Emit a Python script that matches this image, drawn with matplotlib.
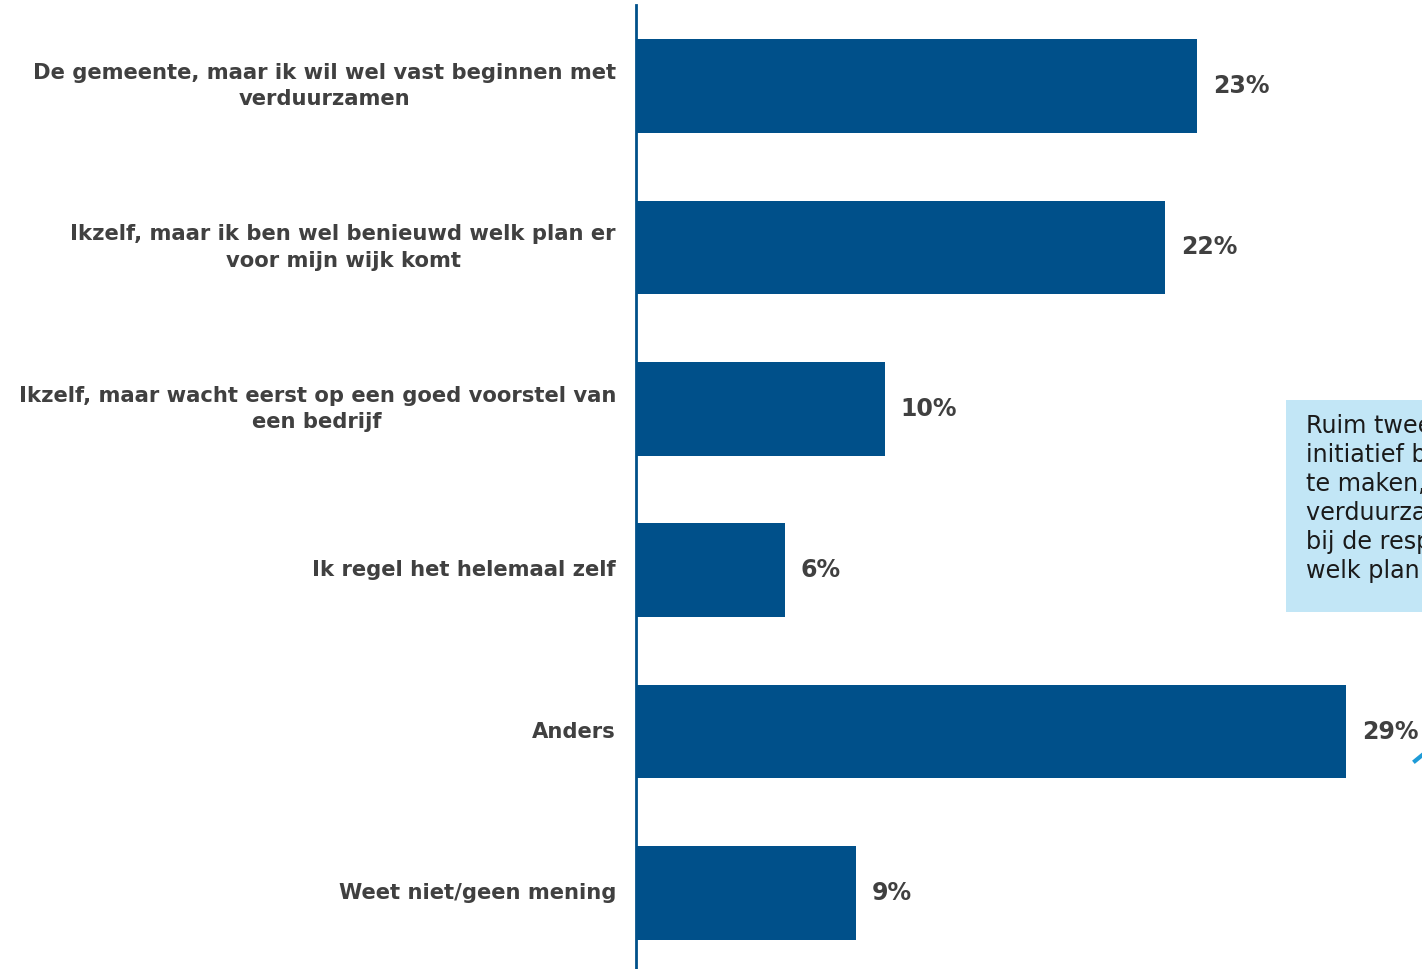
import matplotlib
matplotlib.use("Agg")
import matplotlib.pyplot as plt
from matplotlib.lines import Line2D

categories = [
    "De gemeente, maar ik wil wel vast beginnen met\nverduurzamen",
    "Ikzelf, maar ik ben wel benieuwd welk plan er\nvoor mijn wijk komt",
    "Ikzelf, maar wacht eerst op een goed voorstel van\neen bedrijf",
    "Ik regel het helemaal zelf",
    "Anders",
    "Weet niet/geen mening",
]
values = [23.0, 21.7, 10.2, 6.1, 29.1, 9.0]
value_labels = ["23%", "22%", "10%", "6%", "29%", "9%"]

note_text = ("Ruim tweederde legt het\n"
             "initiatief bij zichzelf om plannen\n"
             "te maken, of begint alvast met\n"
             "verduurzamen. Er is interesse\n"
             "bij de respondenten naar\n"
             "welk plan er voor de wijk komt.")

BAR = "#00508A"
TXT = "#404040"
W, H = 1422, 969

fig = plt.figure(figsize=(W / 100, H / 100), dpi=100)
left = 636 / W
ax_top = 1 - 5.4 / H
ax_bot = 1 - 973.7 / H
ax = fig.add_axes([left, ax_bot, 1 - left, ax_top - ax_bot])

y = list(range(len(categories)))
ax.barh(y, values, height=0.58, color=BAR, zorder=2)
ax.set_ylim(len(categories) - 0.5, -0.5)
ax.set_xlim(0, (W - 636) / 24.4)

for s in ["top", "right", "bottom"]:
    ax.spines[s].set_visible(False)
ax.spines["left"].set_color(BAR)
ax.spines["left"].set_linewidth(2)
ax.set_xticks([])
ax.set_yticks(y)
ax.set_yticklabels(categories, fontsize=15.2, fontweight="bold", color=TXT,
                   multialignment="center", linespacing=1.38, va="center")
ax.tick_params(axis="y", length=0, pad=14.4)

for yi, v, lab in zip(y, values, value_labels):
    ax.annotate(lab, (v, yi), xytext=(11.5, 0), textcoords="offset points",
                va="center", ha="left", fontsize=17, fontweight="bold",
                color=TXT)

# Note box (clipped at right edge as in reference)
bx0, by0, bx1, by1 = 1286 / W, 1 - 612 / H, 1.05, 1 - 400 / H
fig.patches.append(plt.Rectangle((bx0, by0), bx1 - bx0, by1 - by0,
                                 transform=fig.transFigure,
                                 facecolor="#C2E6F6", edgecolor="none",
                                 zorder=5))
fig.text(1306 / W, 1 - 414 / H, note_text, fontsize=17.2, color="#1a1a1a",
         va="top", ha="left", linespacing=1.26, zorder=6)

# small arrow stub at right edge
fig.lines.append(Line2D([1415 / W, 1426 / W], [1 - 761 / H, 1 - 752 / H],
                        transform=fig.transFigure, color="#1E9BD7",
                        linewidth=3, zorder=6))

fig.savefig("out.png", dpi=100)
